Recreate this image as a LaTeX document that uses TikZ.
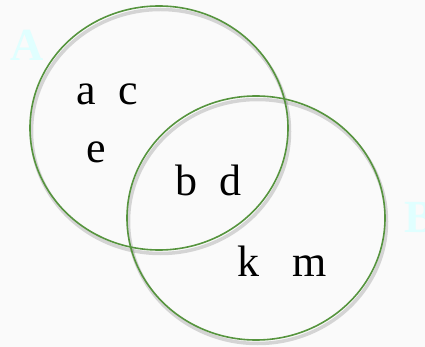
\documentclass[tikz,border=0pt]{standalone}
\usepackage{fontspec}
\setmainfont{Liberation Serif}
\usetikzlibrary{backgrounds}

\definecolor{ringgreen}{RGB}{86,148,62}
\definecolor{setcyan}{RGB}{224,255,255}
\definecolor{paper}{RGB}{250,250,250}

\begin{document}
\begin{tikzpicture}[
  x=1pt, y=-1pt,
  ring/.style={draw=ringgreen, line width=1.6pt},
  ring shadow/.style={draw=black, line width=3.5pt, opacity=0.15},
  set name/.style={font=\fontsize{46}{46}\selectfont\bfseries, text=setcyan, inner sep=0pt},
  element/.style={font=\fontsize{44}{44}\selectfont, anchor=base, inner sep=0pt}
]

% Page frame: fixes the margins of the picture.
\useasboundingbox (0,0) rectangle (425,347);
\fill[paper] (0,0) rectangle (425,347);

% Circle centres and radii (picture pixels).
\def\aX{159}
\def\aY{128}
\def\bX{256}
\def\bY{218}
\def\rX{129}
\def\rY{122}

% -----------------------------------------------------------------------------
% The two sets, each with a soft shadow below.
% -----------------------------------------------------------------------------
\coordinate (centreA) at (\aX,\aY);
\coordinate (centreB) at (\bX,\bY);

\draw[ring shadow] ([shift={(1.5,3.5)}]centreA) ellipse ({\rX} and {\rY});
\draw[ring shadow] ([shift={(1.5,3.5)}]centreB) ellipse ({\rX} and {\rY});
\draw[ring] (centreA) ellipse ({\rX} and {\rY});
\draw[ring] (centreB) ellipse ({\rX} and {\rY});

\node[set name] (labelA) at (27,45) {A};
\node[set name, anchor=west] (labelB) at (404,218) {B};

% -----------------------------------------------------------------------------
% Elements.
% -----------------------------------------------------------------------------
\node[element] (elemAC) at (107,105) {a\ \ c};
\node[element] (elemE) at (96,163) {e};
\node[element] (elemBD) at (208,196) {b\ \ d};
\node[element] (elemKM) at (282,276) {k\ \ \ m};

\end{tikzpicture}
\end{document}
